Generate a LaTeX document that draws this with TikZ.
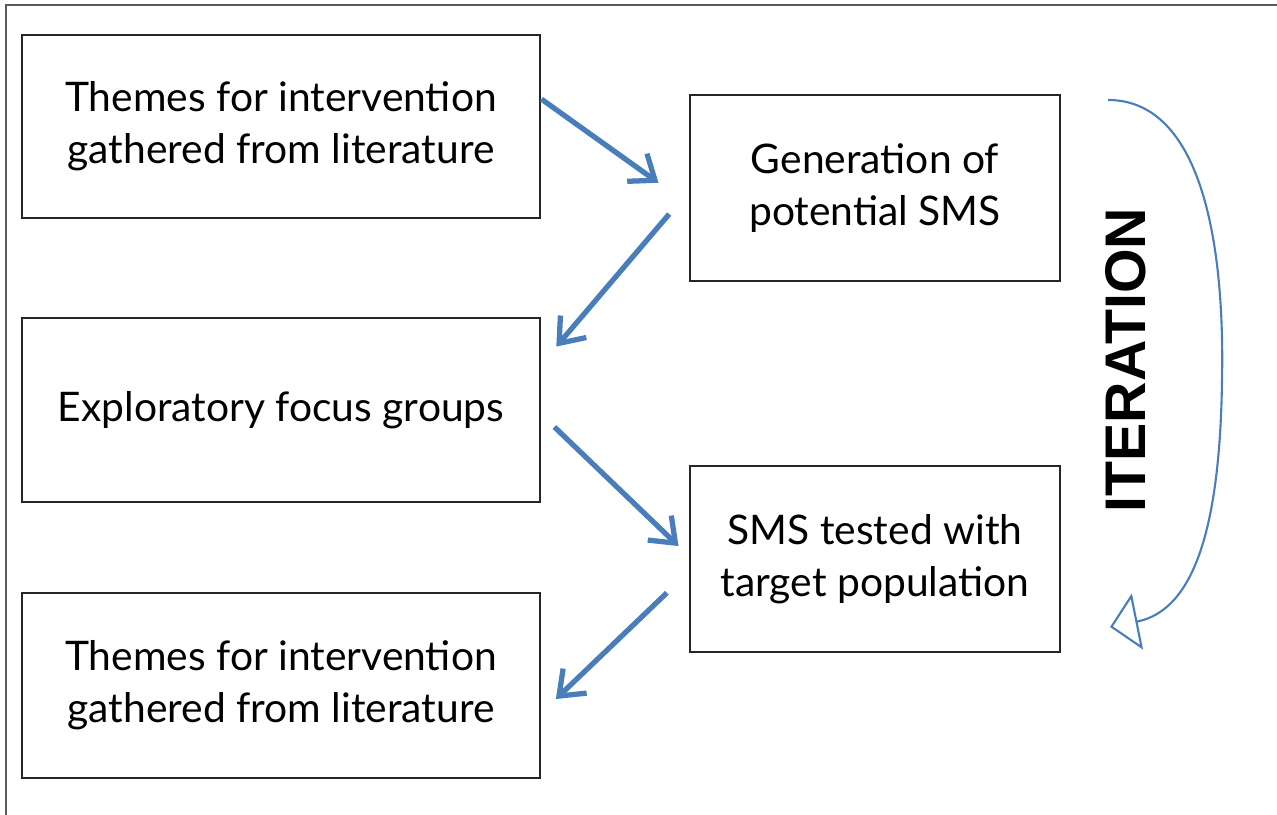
\documentclass[tikz,border=0pt]{standalone}
\usepackage{fontspec}
\setmainfont{Lato}
\newfontfamily\iterfont{Liberation Sans}
\usetikzlibrary{arrows.meta}
\definecolor{flowblue}{HTML}{4A7EBB}
\definecolor{framegray}{HTML}{5A5A5A}
\tikzset{
  stagebox/.style={draw=black!85, line width=0.8pt, align=center,
    font=\fontsize{11.6}{14.8}\selectfont},
  flowarrow/.style={draw=flowblue, line width=1.5pt,
    -{Straight Barb[length=2.2mm, width=3.4mm, line width=1.5pt]}}
}

\begin{document}
\begin{tikzpicture}
\useasboundingbox (0,0) rectangle (12.77,8.15);
% outer frame (top and left edges only)
\draw[framegray, line width=0.8pt] (0.06,0) -- (0.06,8.10) -- (12.77,8.10);

\node[stagebox, minimum width=5.18cm, minimum height=1.83cm] (themes) at (2.81,6.885)
  {Themes for intervention\\gathered from literature};
\node[stagebox, minimum width=3.70cm, minimum height=1.86cm] (generation) at (8.75,6.27)
  {Generation of\\potential SMS};
\node[stagebox, minimum width=5.18cm, minimum height=1.84cm] (focus) at (2.81,4.05)
  {Exploratory focus groups};
\node[stagebox, minimum width=3.70cm, minimum height=1.86cm] (tested) at (8.75,2.56)
  {SMS tested with\\target population};
\node[stagebox, minimum width=5.18cm, minimum height=1.85cm] (themesend) at (2.81,1.295)
  {Themes for intervention\\gathered from literature};

\draw[flowarrow, shorten >=0.37cm] (themes.6.5) -- (generation.185.1);
\draw[flowarrow, shorten <=0.30cm, shorten >=0.23cm] (generation.181) -- (focus.10.9);
\draw[flowarrow, shorten <=0.18cm, shorten >=0.14cm] (focus.359.5) -- (tested.179.6);
\draw[flowarrow, shorten <=0.30cm, shorten >=0.20cm] (tested.184.6) -- (themesend.354.4);

% iteration loop
\coordinate (iterstart) at (11.08,7.15);
\coordinate (iterend) at (11.10,1.88);
\node[font=\iterfont\bfseries\fontsize{16.3}{19}\selectfont, rotate=90] (iteration) at (11.26,4.55) {ITERATION};
\draw[flowblue, line width=0.6pt, -{Triangle[length=2.8mm, width=5.7mm, fill=white, line width=0.6pt]}]
  (iterstart) .. controls (11.95,7.15) and (12.25,5.9) .. (12.22,4.35)
  .. controls (12.2,2.9) and (11.95,2.05) .. (iterend);
\end{tikzpicture}
\end{document}
